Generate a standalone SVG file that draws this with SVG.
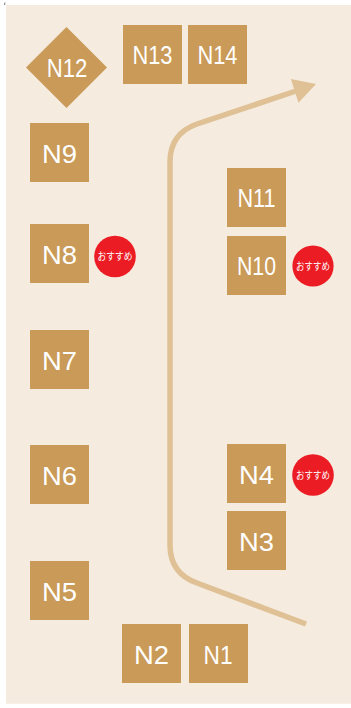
<svg xmlns="http://www.w3.org/2000/svg" width="351" height="708" viewBox="0 0 351 708">
<style>
.box{fill:#c99a58}
.lbl{fill:#ffffff;font-family:"Liberation Sans",Arial,sans-serif;font-size:26px;text-anchor:middle}
.lbl2{fill:#ffffff;font-family:"Liberation Sans",Arial,sans-serif;font-size:25.5px;text-anchor:middle}
.badge{fill:#ec1c24}
.btxt{fill:#ffffff;font-family:"Noto Sans CJK JP","Noto Sans",sans-serif;font-size:10px;text-anchor:middle}
.route{fill:none;stroke:#dfc195;stroke-width:5.5}
</style>
<rect x="0" y="0" width="351" height="708" fill="#ffffff"/>
<rect x="6" y="5" width="345" height="698.7" fill="#f5ebdf"/>
<path d="M5 2.5 L4.5 5" stroke="#555" stroke-width="0.8"/>
<g id="connectors">
<path class="route" d="M306 624 L197 583 C180 577 170 565 170 545 L170 162 C170 142 180 130 197 124 L296 91"/>
<polygon points="316,84 290.9,78.9 298.5,102.7" fill="#dfc195"/>
</g>
<g id="N12"><polygon class="box" points="66.5,27 107,67.5 66.5,108 26,67.5"/><text class="lbl2" x="67" y="77.3" textLength="40.5" lengthAdjust="spacingAndGlyphs">N12</text></g>
<g id="N13"><rect class="box" x="123" y="25" width="59" height="59"/><text class="lbl2" x="152.5" y="63.5" textLength="40" lengthAdjust="spacingAndGlyphs">N13</text></g>
<g id="N14"><rect class="box" x="188" y="25" width="59" height="59"/><text class="lbl2" x="217.5" y="63.5" textLength="40" lengthAdjust="spacingAndGlyphs">N14</text></g>
<g id="N9"><rect class="box" x="30" y="123" width="59" height="59"/><text class="lbl" x="59.5" y="162.5" textLength="35" lengthAdjust="spacingAndGlyphs">N9</text></g>
<g id="N11"><rect class="box" x="227" y="168" width="59" height="59"/><text class="lbl2" x="256.5" y="206.5" textLength="38" lengthAdjust="spacingAndGlyphs">N11</text></g>
<g id="N8"><rect class="box" x="30" y="224" width="59" height="59"/><text class="lbl" x="59.5" y="263.5" textLength="35" lengthAdjust="spacingAndGlyphs">N8</text>
<circle class="badge" cx="115" cy="256.5" r="20.8"/><text class="btxt" x="115" y="260" textLength="35" lengthAdjust="spacingAndGlyphs">おすすめ</text></g>
<g id="N10"><rect class="box" x="227" y="236" width="59" height="59"/><text class="lbl2" x="256.5" y="274.5" textLength="39" lengthAdjust="spacingAndGlyphs">N10</text>
<circle class="badge" cx="313" cy="266" r="20.6"/><text class="btxt" x="313" y="269.5" textLength="34" lengthAdjust="spacingAndGlyphs">おすすめ</text></g>
<g id="N7"><rect class="box" x="30" y="330" width="59" height="59"/><text class="lbl" x="59.5" y="369.5" textLength="35" lengthAdjust="spacingAndGlyphs">N7</text></g>
<g id="N6"><rect class="box" x="30" y="445" width="59" height="59"/><text class="lbl" x="59.5" y="484.5" textLength="35" lengthAdjust="spacingAndGlyphs">N6</text></g>
<g id="N4"><rect class="box" x="227" y="444" width="59" height="59"/><text class="lbl" x="256.5" y="483.5" textLength="35" lengthAdjust="spacingAndGlyphs">N4</text>
<circle class="badge" cx="313" cy="475" r="20.8"/><text class="btxt" x="313" y="478.5" textLength="34" lengthAdjust="spacingAndGlyphs">おすすめ</text></g>
<g id="N3"><rect class="box" x="227" y="511" width="59" height="59"/><text class="lbl" x="256.5" y="550.5" textLength="35" lengthAdjust="spacingAndGlyphs">N3</text></g>
<g id="N5"><rect class="box" x="30" y="561" width="59" height="59"/><text class="lbl" x="59.5" y="600.5" textLength="35" lengthAdjust="spacingAndGlyphs">N5</text></g>
<g id="N2"><rect class="box" x="122" y="624" width="59" height="59"/><text class="lbl" x="151.5" y="663.5" textLength="35" lengthAdjust="spacingAndGlyphs">N2</text></g>
<g id="N1"><rect class="box" x="189" y="624" width="59" height="59"/><text class="lbl" x="218" y="663.5" textLength="29" lengthAdjust="spacingAndGlyphs">N1</text></g>
</svg>
